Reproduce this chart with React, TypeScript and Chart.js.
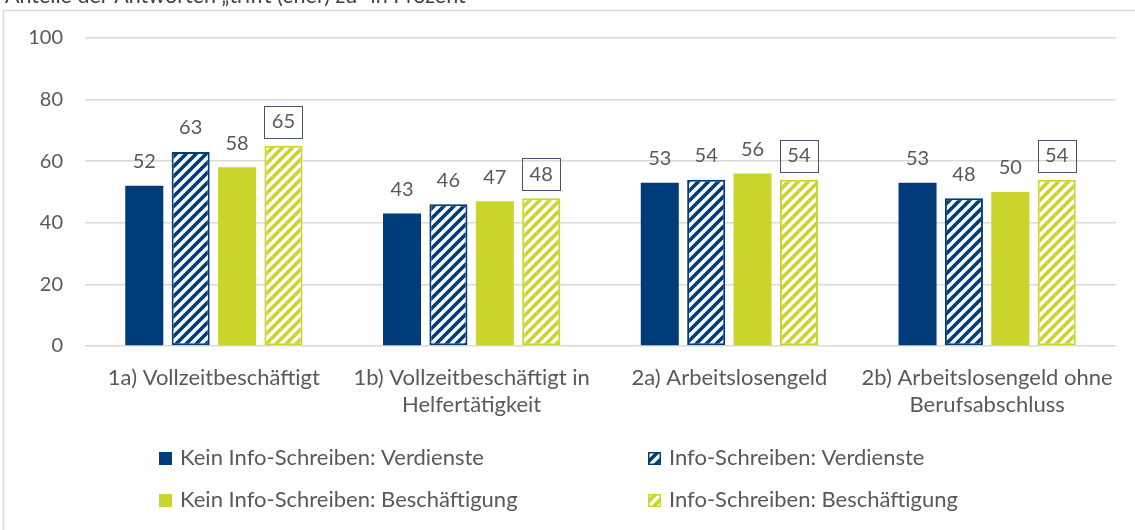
import React, { useEffect, useRef } from "react";
import { Chart, registerables } from "chart.js";

Chart.register(...registerables);

const titleText = "Anteile der Antworten „trifft (eher) zu“ in Prozent";
const categories: (string | string[])[] = [
  "1a) Vollzeitbeschäftigt",
  ["1b) Vollzeitbeschäftigt in", "Helfertätigkeit"],
  "2a) Arbeitslosengeld",
  ["2b) Arbeitslosengeld ohne", "Berufsabschluss"],
];
const seriesNames = [
  "Kein Info-Schreiben: Verdienste",
  "Info-Schreiben: Verdienste",
  "Kein Info-Schreiben: Beschäftigung",
  "Info-Schreiben: Beschäftigung",
];
const keinVerdienste = [52, 43, 53, 53];
const infoVerdienste = [63, 46, 54, 48];
const keinBeschaeftigung = [58, 47, 56, 50];
const infoBeschaeftigung = [65, 48, 54, 54];
const yTicks = [0, 20, 40, 60, 80, 100];

const NAVY = "#003B7A";
const LIME = "#C9D52C";
const TEXT = "#595959";
const GRID = "#D9D9D9";
const FONT = "Lato, 'Open Sans', sans-serif";

function makeHatch(color: string): CanvasPattern | string {
  const c = document.createElement("canvas");
  c.width = 10;
  c.height = 10;
  const g = c.getContext("2d");
  if (!g) return color;
  g.fillStyle = "#ffffff";
  g.fillRect(0, 0, 10, 10);
  g.strokeStyle = color;
  g.lineWidth = 3.6;
  g.beginPath();
  g.moveTo(-5, 5); g.lineTo(5, -5);
  g.moveTo(0, 10); g.lineTo(10, 0);
  g.moveTo(5, 15); g.lineTo(15, 5);
  g.stroke();
  const p = g.createPattern(c, "repeat");
  return p || color;
}

export default function App() {
  const ref = useRef<HTMLCanvasElement | null>(null);

  useEffect(() => {
    if (!ref.current) return;
    const hatchNavy = makeHatch(NAVY);
    const hatchLime = makeHatch(LIME);
    const fills = [NAVY, hatchNavy, LIME, hatchLime];
    const borders = [NAVY, NAVY, LIME, LIME];
    const borderWidths = [0, 2, 0, 2];
    const values = [keinVerdienste, infoVerdienste, keinBeschaeftigung, infoBeschaeftigung];

    const frame = {
      id: "frame",
      beforeDraw(chart: any) {
        const ctx = chart.ctx;
        ctx.save();
        ctx.fillStyle = "#ffffff";
        ctx.fillRect(0, 0, chart.width, chart.height);
        ctx.strokeStyle = GRID;
        ctx.lineWidth = 1.5;
        ctx.strokeRect(3.5, 10.5, 1300, 700);
        ctx.fillStyle = "#404040";
        ctx.font = `21.5px ${FONT}`;
        ctx.textAlign = "left";
        ctx.textBaseline = "alphabetic";
        ctx.fillText(titleText, 5, 3);
        ctx.restore();
      },
    };

    const valueLabels = {
      id: "valueLabels",
      afterDatasetsDraw(chart: any) {
        const ctx = chart.ctx;
        ctx.save();
        ctx.font = `20px ${FONT}`;
        ctx.fillStyle = TEXT;
        ctx.textAlign = "center";
        ctx.textBaseline = "middle";
        chart.data.datasets.forEach((ds: any, di: number) => {
          const meta = chart.getDatasetMeta(di);
          meta.data.forEach((el: any, i: number) => {
            const cy = el.y - 24;
            if (di === 3) {
              ctx.strokeStyle = "#44546A";
              ctx.lineWidth = 1;
              ctx.strokeRect(Math.round(el.x - 19) + 0.5, Math.round(cy - 16) + 0.5, 38, 32);
            }
            ctx.fillStyle = TEXT;
            ctx.fillText(String(ds.data[i]), el.x, cy);
          });
        });
        ctx.restore();
      },
    };

    const legendPlugin = {
      id: "customLegend",
      afterDraw(chart: any) {
        const ctx = chart.ctx;
        const cols = [159, 648];
        const rows = [458, 500];
        ctx.save();
        ctx.font = `22px ${FONT}`;
        ctx.textAlign = "left";
        ctx.textBaseline = "middle";
        chart.data.datasets.forEach((ds: any, di: number) => {
          const x = cols[di % 2];
          const y = rows[Math.floor(di / 2)];
          ctx.fillStyle = fills[di];
          ctx.fillRect(x, y - 6, 13, 13);
          if (borderWidths[di] > 0) {
            ctx.strokeStyle = borders[di];
            ctx.lineWidth = 1.5;
            ctx.strokeRect(x + 0.75, y - 5.25, 11.5, 11.5);
          }
          ctx.fillStyle = TEXT;
          ctx.fillText(ds.label, x + 21, y);
        });
        ctx.restore();
      },
    };

    const chart = new Chart(ref.current, {
      type: "bar",
      data: {
        labels: categories,
        datasets: values.map((v, i) => ({
          label: seriesNames[i],
          data: v,
          backgroundColor: fills[i] as any,
          borderColor: borders[i],
          borderWidth: borderWidths[i],
          borderSkipped: false,
          categoryPercentage: 0.72,
          barPercentage: 0.82,
        })),
      },
      options: {
        animation: false,
        responsive: false,
        devicePixelRatio: 1,
        layout: { padding: { top: 38, right: 19, bottom: 100, left: 0 } },
        plugins: { legend: { display: false }, tooltip: { enabled: false }, title: { display: false } },
        scales: {
          x: {
            grid: { display: false },
            border: { display: false },
            ticks: {
              color: TEXT,
              font: { family: FONT, size: 22, lineHeight: 1.25 },
              padding: 10,
              maxRotation: 0,
              autoSkip: false,
            },
            afterFit(scale: any) { scale.height = 84; },
          },
          y: {
            min: 0,
            max: 100,
            afterBuildTicks(scale: any) { scale.ticks = yTicks.map((v) => ({ value: v })); },
            grid: { color: GRID, lineWidth: 1.5, drawTicks: false },
            border: { display: false },
            ticks: {
              color: TEXT,
              font: { family: FONT, size: 20 },
              padding: 22,
            },
            afterFit(scale: any) { scale.width = 85; },
          },
        },
      },
      plugins: [frame, valueLabels, legendPlugin],
    });
    return () => chart.destroy();
  }, []);

  return (
    <div style={{ position: "absolute", left: 0, top: 0, width: 1135, height: 530, overflow: "hidden" }}>
      <canvas ref={ref} width={1135} height={530} style={{ display: "block" }} />
    </div>
  );
}
